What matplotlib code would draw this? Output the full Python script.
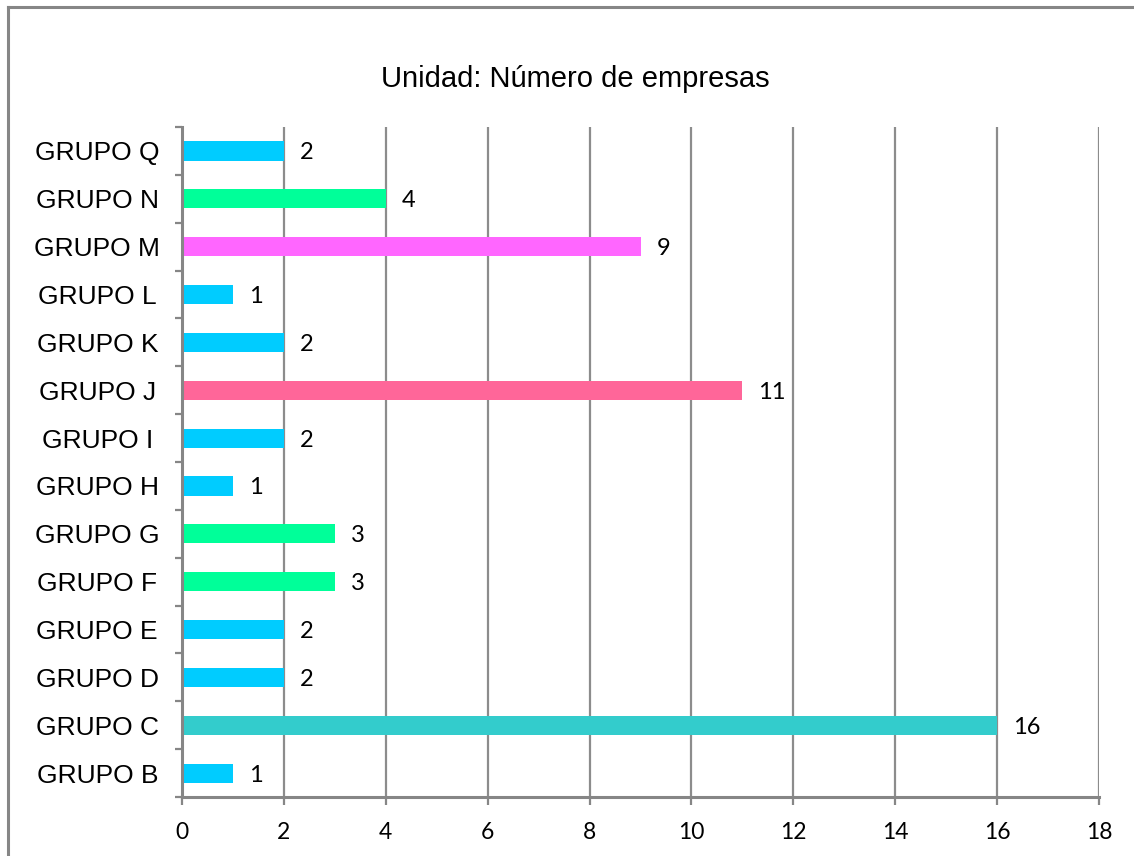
import matplotlib
matplotlib.use("Agg")
import matplotlib.pyplot as plt
import numpy as np

categories = ["GRUPO B", "GRUPO C", "GRUPO D", "GRUPO E", "GRUPO F", "GRUPO G", "GRUPO H",
              "GRUPO I", "GRUPO J", "GRUPO K", "GRUPO L", "GRUPO M", "GRUPO N", "GRUPO Q"]
values = [1, 16, 2, 2, 3, 3, 1, 2, 11, 2, 1, 9, 4, 2]
colors = ["#00CCFF", "#33CCCC", "#00CCFF", "#00CCFF", "#00FF99", "#00FF99", "#00CCFF",
          "#00CCFF", "#FF6699", "#00CCFF", "#00CCFF", "#FF66FF", "#00FF99", "#00CCFF"]
title = "Unidad: Número de empresas"
xticks = [0, 2, 4, 6, 8, 10, 12, 14, 16, 18]

W, H = 1134, 856
fig = plt.figure(figsize=(W / 100, H / 100), dpi=100)
fig.patch.set_facecolor("white")

# outer chart border (top and left visible)
fig.add_artist(plt.Line2D([7.5 / W, 1.0], [1 - 6.5 / H, 1 - 6.5 / H], color="#868686", lw=2.2))
fig.add_artist(plt.Line2D([7.5 / W, 7.5 / W], [0, 1 - 6.5 / H], color="#868686", lw=2.2))

ax = fig.add_axes([182 / W, 1 - 797 / H, (1099 - 182) / W, (797 - 127) / H])
y = np.arange(len(categories))
ax.barh(y, values, height=0.4, color=colors, zorder=3)
ax.set_xlim(0, 18)
ax.set_ylim(-0.5, len(categories) - 0.5)

ax.set_xticks(xticks)
ax.set_xticklabels([str(t) for t in xticks], fontsize=16.5, family=["Lato", "DejaVu Sans"])
ax.tick_params(axis="x", direction="out", length=6, width=1.6, color="#868686", pad=12)
ax.grid(axis="x", color="#8c8c8c", lw=1.6, zorder=0)

ax.set_yticks(y)
ax.set_yticklabels(categories, fontsize=19, family=["Liberation Sans", "DejaVu Sans"], ha="center")
ax.tick_params(axis="y", which="major", length=0, pad=61)
ax.set_yticks(np.arange(-0.5, len(categories), 1), minor=True)
ax.tick_params(axis="y", which="minor", direction="out", length=5, width=1.6, color="#868686")

for s in ["top", "right"]:
    ax.spines[s].set_visible(False)
for s in ["left", "bottom"]:
    ax.spines[s].set_color("#868686")
    ax.spines[s].set_linewidth(2.2)
    ax.spines[s].set_zorder(4)

for yi, v in zip(y, values):
    ax.annotate(str(v), (v, yi), xytext=(16, -2), textcoords="offset pixels",
                ha="left", va="center", fontsize=17, family=["Lato", "DejaVu Sans"])

fig.text(575 / W, 1 - 79 / H, title, ha="center", va="center", fontsize=21,
         family=["Liberation Sans", "DejaVu Sans"])

fig.savefig("out.png", dpi=100)
